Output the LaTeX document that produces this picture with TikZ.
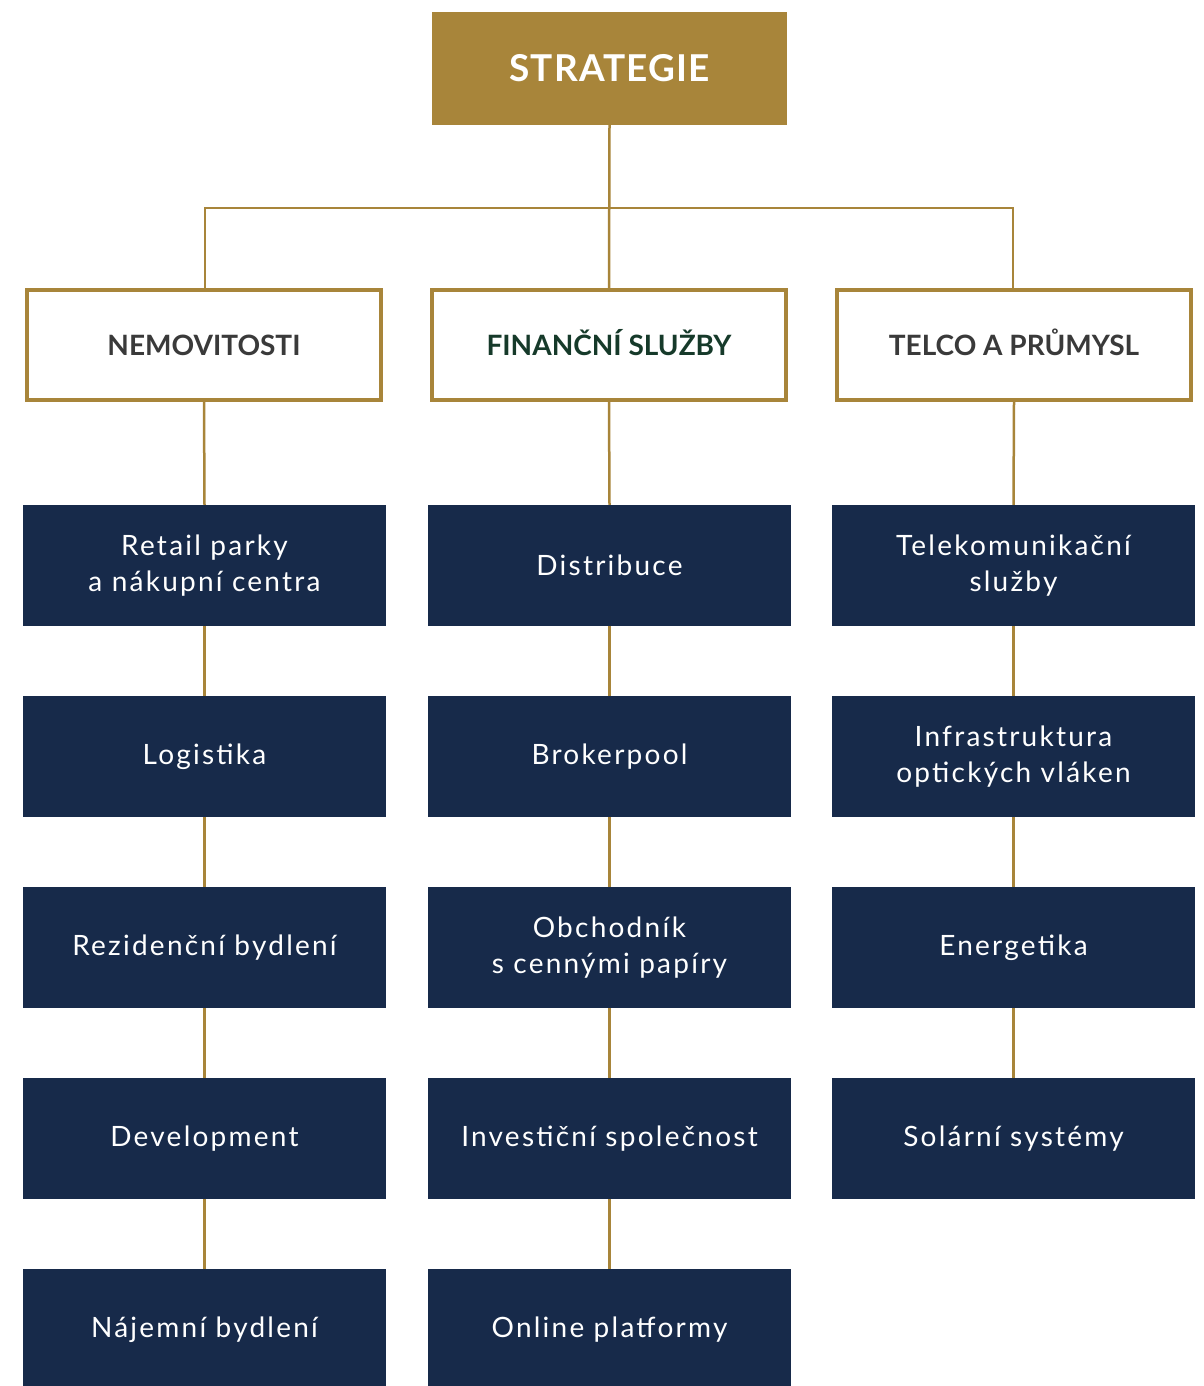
\documentclass[tikz,border=0pt]{standalone}
\usepackage{fontspec}
\setmainfont{Lato}
\newfontfamily\boldf{Lato Bold}
\newfontfamily\topf[LetterSpace=3]{Lato Bold}
\newfontfamily\itemf[LetterSpace=8]{Lato}
\definecolor{gold}{HTML}{A8853A}
\definecolor{navy}{HTML}{172A4A}
\definecolor{darkgray}{HTML}{3A3A3A}
\definecolor{dgreen}{HTML}{163A2A}
\begin{document}
\begin{tikzpicture}[x=1pt,y=-1pt,
  topbox/.style={fill=gold,draw=none,minimum width=355pt,minimum height=113pt,inner sep=0pt,
    font=\topf\fontsize{37}{40}\selectfont,text=white,text height=27pt,text depth=0pt},
  catbox/.style={fill=white,draw=gold,line width=4pt,minimum width=354pt,minimum height=110pt,inner sep=0pt,
    font=\boldf\fontsize{28}{32}\selectfont,text=darkgray,text height=20pt,text depth=0pt},
  itembox/.style={fill=navy,draw=none,minimum width=363pt,minimum height=121pt,inner sep=0pt,
    font=\itemf\fontsize{28}{36}\selectfont,text=white,align=center},
  link/.style={draw=gold,line width=2.5pt}]
\useasboundingbox (0,0) rectangle (1204,1386);
\fill[white] (0,0) rectangle (1204,1386);
\node[topbox] (top) at (609.5,68.5) {STRATEGIE};
\node[catbox] (c1) at (204,345) {NEMOVITOSTI};
\node[catbox,text=dgreen] (c2) at (609,345) {FINANČNÍ SLUŽBY};
\node[catbox] (c3) at (1014,345) {TELCO A PRŮMYSL};
\node[itembox] (a1) at (204.5,565.5) {Retail parky\\a nákupní centra};
\node[itembox] (a2) at (204.5,756.5) {Logistika};
\node[itembox] (a3) at (204.5,947.5) {Rezidenční bydlení};
\node[itembox] (a4) at (204.5,1138.5) {Development};
\node[itembox] (a5) at (204.5,1329.5) {Nájemní bydlení};
\node[itembox] (b1) at (609.5,565.5) {Distribuce};
\node[itembox] (b2) at (609.5,756.5) {Brokerpool};
\node[itembox] (b3) at (609.5,947.5) {Obchodník\\s cennými papíry};
\node[itembox] (b4) at (609.5,1138.5) {Investiční společnost};
\node[itembox] (b5) at (609.5,1329.5) {Online platformy};
\node[itembox] (d1) at (1013.5,565.5) {Telekomunikační\\služby};
\node[itembox] (d2) at (1013.5,756.5) {Infrastruktura\\optických vláken};
\node[itembox] (d3) at (1013.5,947.5) {Energetika};
\node[itembox] (d4) at (1013.5,1138.5) {Solární systémy};
\coordinate (hl) at (205,208);
\coordinate (hr) at (1013,208);
\draw[link] (top.south) -- (c2.north);
\draw[link] (c1.north -| hl) -- (hl) -- (hr) -- (c3.north -| hr);
\foreach \u/\v in {c1/a1,a1/a2,a2/a3,a3/a4,a4/a5,c2/b1,b1/b2,b2/b3,b3/b4,b4/b5,c3/d1,d1/d2,d2/d3,d3/d4}
  \draw[link] (\u.south) -- (\v.north);
\end{tikzpicture}
\end{document}
